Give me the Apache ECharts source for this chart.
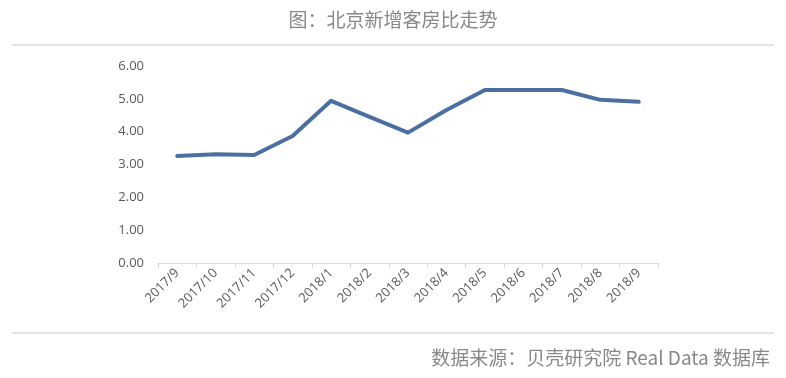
<!DOCTYPE html>
<html>
<head>
<meta charset="utf-8">
<script src="https://cdn.jsdelivr.net/npm/echarts@6/dist/echarts.min.js"></script>
<style>
  html, body { margin: 0; padding: 0; background: #fff; }
  #chart { width: 786px; height: 378px; }
</style>
</head>
<body>
<div id="chart"></div>
<script>
var months = ['2017/9', '2017/10', '2017/11', '2017/12', '2018/1', '2018/2', '2018/3',
  '2018/4', '2018/5', '2018/6', '2018/7', '2018/8', '2018/9']
var ratio = [3.26, 3.31, 3.29, 3.87, 4.94, 4.45, 3.97, 4.66, 5.27, 5.27, 5.27, 4.97, 4.91]

var myChart = echarts.init(document.getElementById('chart'))

myChart.setOption({
  animation: false,
  textStyle: { fontFamily: '"Noto Sans CJK SC", "Open Sans", sans-serif' },
  title: [
    {
      text: '图：北京新增客房比走势',
      left: 'center',
      top: 5,
      textStyle: { fontSize: 19, fontWeight: 'normal', color: '#888' }
    },
    {
      text: '数据来源：贝壳研究院 Real Data 数据库',
      right: 11,
      top: 343,
      textStyle: { fontSize: 19, fontWeight: 'normal', color: '#888' }
    }
  ],
  graphic: [
    { type: 'line', shape: { x1: 12, y1: 45, x2: 774, y2: 45 }, style: { stroke: '#c8c8c8', lineWidth: 1 } },
    { type: 'line', shape: { x1: 12, y1: 333, x2: 774, y2: 333 }, style: { stroke: '#c8c8c8', lineWidth: 1 } }
  ],
  grid: { left: 158, right: 128, top: 66, bottom: 115 },
  xAxis: {
    type: 'category',
    data: months,
    boundaryGap: true,
    axisLine: { lineStyle: { color: '#d9d9d9' } },
    axisTick: { show: true, length: 5, lineStyle: { color: '#d9d9d9' } },
    axisLabel: { rotate: 45, color: '#595959', fontSize: 13, margin: 8, interval: 0, fontFamily: 'Open Sans' }
  },
  yAxis: {
    type: 'value',
    min: 0,
    max: 6,
    interval: 1,
    axisLine: { show: false },
    axisTick: { show: false },
    splitLine: { show: false },
    axisLabel: {
      color: '#595959',
      fontSize: 13,
      margin: 14,
      fontFamily: 'Open Sans',
      formatter: function (v) { return v.toFixed(2) }
    }
  },
  series: [
    {
      type: 'line',
      data: ratio,
      showSymbol: false,
      symbol: 'none',
      lineStyle: { color: '#4b6fa0', width: 4, join: 'round', cap: 'round' }
    }
  ]
})
</script>
</body>
</html>
